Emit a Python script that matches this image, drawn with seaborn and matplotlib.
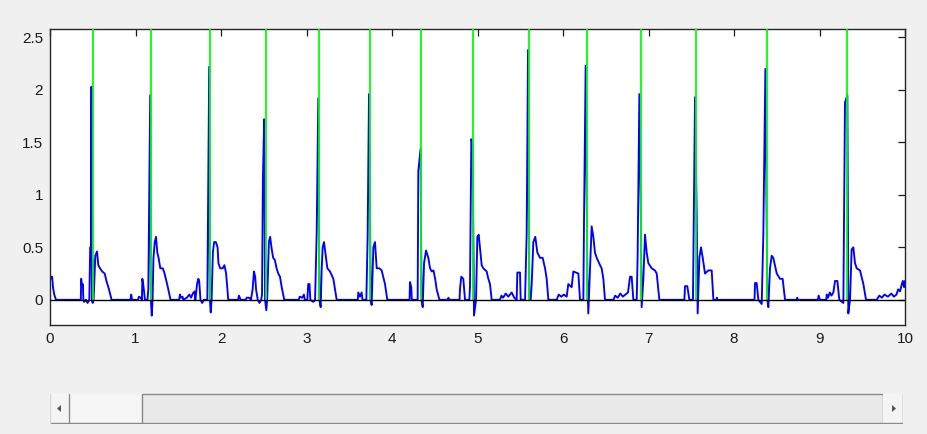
import numpy as np
import pandas as pd
import matplotlib
matplotlib.use("Agg")
import matplotlib.pyplot as plt
import seaborn as sns
from matplotlib.patches import Rectangle, Polygon

# ---------------- data ----------------
sig_t = [
    0.00, 0.01, 0.025, 0.035, 0.05, 0.07,
    0.36, 0.365, 0.375, 0.385, 0.39, 0.40, 0.42, 0.44, 0.46, 0.47, 0.48, 0.485, 0.49, 0.50, 0.505, 0.51,
    0.52, 0.53, 0.55, 0.565, 0.585, 0.61, 0.64, 0.66, 0.69, 0.72,
    0.94, 0.95, 0.96,
    1.03, 1.04, 1.06, 1.075, 1.08, 1.09, 1.10, 1.11, 1.14, 1.15, 1.16, 1.172, 1.18, 1.19, 1.20,
    1.21, 1.225, 1.24, 1.255, 1.27, 1.29, 1.32, 1.34, 1.37, 1.41,
    1.51, 1.52, 1.53, 1.55, 1.56, 1.60, 1.63, 1.65, 1.67, 1.69, 1.70, 1.72, 1.735, 1.745, 1.76, 1.78,
    1.80, 1.84, 1.85, 1.862, 1.87, 1.88, 1.89, 1.905, 1.92, 1.94, 1.96, 1.97, 1.99, 2.02, 2.04, 2.06, 2.085,
    2.20, 2.21, 2.23, 2.29, 2.30, 2.33, 2.35, 2.37, 2.385, 2.40, 2.41, 2.43, 2.45, 2.47, 2.48, 2.49,
    2.505, 2.515, 2.53, 2.54, 2.56, 2.575, 2.59, 2.61, 2.63, 2.65, 2.67, 2.69, 2.71, 2.74,
    2.91, 2.92, 2.95, 2.97, 2.98, 3.01, 3.02, 3.035, 3.045, 3.08, 3.10, 3.119, 3.138, 3.150, 3.166,
    3.177, 3.189, 3.205, 3.228, 3.244, 3.275, 3.314, 3.333, 3.353,
    3.600, 3.606, 3.625, 3.645, 3.655, 3.700, 3.715, 3.731, 3.751, 3.762, 3.782, 3.801, 3.821, 3.852,
    3.879, 3.918, 3.945,
    4.205, 4.211, 4.225, 4.232, 4.300, 4.308, 4.335, 4.345, 4.359, 4.375, 4.398, 4.425, 4.445, 4.465,
    4.485, 4.505, 4.522, 4.555,
    4.655, 4.660, 4.668, 4.790, 4.795, 4.810, 4.834, 4.854, 4.905, 4.912, 4.928, 4.943, 4.959, 4.983,
    4.998, 5.014, 5.029, 5.049, 5.068, 5.107, 5.127, 5.146, 5.166,
    5.263, 5.28, 5.30, 5.33, 5.36, 5.40, 5.43, 5.458, 5.466, 5.497, 5.505, 5.556, 5.575, 5.591, 5.606,
    5.622, 5.634, 5.653, 5.676, 5.700, 5.731, 5.762, 5.790, 5.809, 5.829,
    5.926, 5.95, 5.98, 6.01, 6.043, 6.062, 6.101, 6.121, 6.180, 6.199, 6.238, 6.246, 6.265, 6.285,
    6.296, 6.316, 6.335, 6.355, 6.374, 6.394, 6.433, 6.452, 6.472, 6.491,
    6.589, 6.61, 6.64, 6.67, 6.70, 6.73, 6.76, 6.784, 6.803, 6.823, 6.862, 6.873, 6.893, 6.909, 6.920,
    6.940, 6.959, 6.979, 6.998, 7.037, 7.076, 7.096, 7.127,
    7.420, 7.427, 7.454, 7.478, 7.520, 7.525, 7.544, 7.564, 7.575, 7.595, 7.614, 7.634, 7.661, 7.700,
    7.739, 7.759,
    7.797, 7.800, 7.805, 8.240, 8.246, 8.265, 8.285, 8.324, 8.343, 8.367, 8.390, 8.402, 8.421, 8.441,
    8.460, 8.500, 8.538, 8.569, 8.597,
    8.733, 8.74, 8.745, 8.98, 8.99, 9.006, 9.08, 9.084, 9.10, 9.12, 9.14, 9.162, 9.182, 9.209, 9.232,
    9.279, 9.298, 9.326, 9.337, 9.357, 9.376, 9.396, 9.415, 9.435, 9.474, 9.513, 9.544,
    9.669, 9.70, 9.73, 9.76, 9.80, 9.84, 9.87, 9.90, 9.92, 9.942, 9.96, 9.975, 9.989, 10.0,
]
sig_v = [
    0.18, 0.22, 0.22, 0.12, 0.05, 0.00,
    0.00, 0.20, 0.12, 0.15, 0.00, -0.02, 0.00, -0.03, 0.00, 0.50, 0.50, 2.03, 0.00, -0.03, 0.38, 0.00,
    0.20, 0.42, 0.46, 0.33, 0.30, 0.27, 0.25, 0.18, 0.10, 0.00,
    0.00, 0.05, 0.00,
    0.00, 0.03, 0.02, 0.00, 0.20, 0.15, 0.08, 0.00, 0.00, 0.10, 0.98, 1.95, 0.00, -0.15, 0.00,
    0.40, 0.55, 0.60, 0.45, 0.40, 0.30, 0.30, 0.25, 0.15, 0.00,
    0.00, 0.05, 0.02, 0.03, 0.00, 0.02, 0.05, 0.02, 0.06, 0.08, 0.00, 0.15, 0.20, 0.18, 0.00, -0.03,
    0.00, 0.00, 0.97, 2.22, 0.00, -0.12, 0.00, 0.45, 0.55, 0.55, 0.50, 0.35, 0.30, 0.30, 0.33, 0.25, 0.00,
    0.00, 0.04, 0.00, 0.00, 0.02, 0.02, 0.00, 0.10, 0.27, 0.22, 0.10, 0.00, -0.03, 0.00, 0.05, 1.15,
    1.72, 0.00, -0.10, 0.00, 0.55, 0.60, 0.50, 0.40, 0.38, 0.30, 0.25, 0.22, 0.12, 0.00,
    0.00, 0.03, 0.02, 0.05, 0.00, 0.00, 0.15, 0.15, 0.00, -0.02, 0.00, 0.63, 1.92, 0.00, -0.07,
    0.28, 0.50, 0.55, 0.40, 0.30, 0.27, 0.20, 0.10, 0.00,
    0.00, 0.07, 0.03, 0.07, 0.00, 0.00, 0.60, 1.96, 0.00, -0.05, 0.50, 0.55, 0.30, 0.30,
    0.28, 0.15, 0.00,
    0.00, 0.17, 0.12, 0.00, 0.00, 1.23, 1.44, 0.00, -0.07, 0.35, 0.47, 0.40, 0.30, 0.27,
    0.28, 0.20, 0.10, 0.00,
    0.00, 0.02, 0.00, 0.00, 0.10, 0.22, 0.20, 0.00, 0.00, 0.13, 1.53, 1.47, -0.15, 0.00,
    0.60, 0.62, 0.50, 0.33, 0.30, 0.27, 0.20, 0.15, 0.00,
    0.00, 0.04, 0.02, 0.06, 0.03, 0.07, 0.02, 0.00, 0.26, 0.26, 0.00, 0.00, 0.63, 2.38, 0.00,
    0.00, 0.15, 0.55, 0.60, 0.45, 0.40, 0.40, 0.30, 0.20, 0.00,
    0.00, 0.05, 0.03, 0.05, 0.03, 0.15, 0.12, 0.27, 0.25, 0.00, 0.00, 0.77, 2.23, 0.20,
    -0.13, 0.30, 0.70, 0.60, 0.45, 0.40, 0.33, 0.30, 0.20, 0.00,
    0.00, 0.04, 0.02, 0.06, 0.03, 0.05, 0.07, 0.22, 0.22, 0.00, 0.00, 0.42, 1.96, 0.90, -0.07,
    0.20, 0.62, 0.45, 0.35, 0.30, 0.28, 0.25, 0.00,
    0.00, 0.13, 0.13, 0.00, 0.00, 0.42, 1.93, 0.78, -0.13, 0.40, 0.50, 0.40, 0.25, 0.28,
    0.28, 0.00,
    0.00, 0.02, 0.00, 0.00, 0.16, 0.16, 0.00, -0.04, 0.62, 2.20, 0.00, -0.07, 0.30, 0.42,
    0.40, 0.25, 0.20, 0.20, 0.00,
    0.00, 0.02, 0.00, 0.00, 0.04, 0.00, 0.00, 0.05, 0.02, 0.07, 0.04, 0.07, 0.18, 0.18, 0.00,
    -0.03, 1.88, 1.95, -0.13, 0.00, 0.48, 0.50, 0.35, 0.30, 0.28, 0.15, 0.00,
    0.00, 0.04, 0.02, 0.05, 0.03, 0.06, 0.03, 0.05, 0.10, 0.08, 0.14, 0.18, 0.12, 0.18,
]
r_peaks = [0.507, 1.185, 1.875, 2.522, 3.146, 3.747, 4.335, 4.947, 5.602, 6.277, 6.909, 7.556, 8.382, 9.322]
x_ticks = [0, 1, 2, 3, 4, 5, 6, 7, 8, 9, 10]
y_ticks = [0, 0.5, 1, 1.5, 2, 2.5]
y_tick_labels = ["0", "0.5", "1", "1.5", "2", "2.5"]

# ---------------- figure ----------------
sns.set_theme(style="white")
plt.rcParams["font.family"] = ["Liberation Sans", "DejaVu Sans"]

W, H = 927, 434
fig = plt.figure(figsize=(W / 100, H / 100), dpi=100, facecolor="#f0f0f0")
ax = fig.add_axes([50 / W, 1 - 325 / H, 855 / W, 296 / H])
ax.set_facecolor("white")

df = pd.DataFrame({"t": sig_t, "v": sig_v})
sns.lineplot(data=df, x="t", y="v", sort=False, estimator=None,
             color="#0000ff", linewidth=1.35, ax=ax, zorder=2)
ax.vlines(r_peaks, 0, 2.6, colors="#00ff00", linewidth=1.3, zorder=3)
ax.axhline(0, color="black", linewidth=1.0, zorder=4)

ax.set_xlim(0, 10)
ax.set_ylim(-0.24, 2.58)
ax.set_xticks(x_ticks)
ax.set_xticklabels([str(v) for v in x_ticks])
ax.set_yticks(y_ticks)
ax.set_yticklabels(y_tick_labels)
ax.set_xlabel("")
ax.set_ylabel("")
ax.tick_params(direction="in", length=5, width=0.9, top=True, right=True,
               labeltop=False, labelright=False, labelsize=11,
               colors="#1a1a1a", pad=5)
for s in ax.spines.values():
    s.set_color("#262626")
    s.set_linewidth(1.0)

# ---------------- scrollbar (UI) ----------------
sb = fig.add_axes([50 / W, 1 - 424 / H, 853 / W, 31 / H])
sb.set_xlim(0, 853)
sb.set_ylim(0, 31)
sb.axis("off")
sb.add_patch(Rectangle((0, 0), 853, 31, facecolor="#f2f2f2", edgecolor="none"))
# track / thumb box
sb.add_patch(Rectangle((92, 1), 741, 29, facecolor="#e9e9e9", edgecolor="#8a8a8a", linewidth=1.0))
# left arrow button
sb.add_patch(Rectangle((0, 1), 19, 29, facecolor="#f4f4f4", edgecolor="none"))
sb.plot([19, 19], [1, 30], color="#8a8a8a", lw=1.0)
sb.plot([0, 19], [1, 1], color="#8a8a8a", lw=1.0)
sb.plot([0, 0], [1, 30], color="#d8d8d8", lw=1.0)
sb.add_patch(Polygon([[7, 15.5], [11, 12], [11, 19]], closed=True, facecolor="#555555", edgecolor="none"))
# light left part
sb.add_patch(Rectangle((20, 1.5), 71, 28, facecolor="#f6f6f6", edgecolor="none"))
sb.plot([20, 92], [1, 1], color="#8a8a8a", lw=1.0)
# right arrow button
sb.add_patch(Rectangle((833, 1), 20, 29, facecolor="#f4f4f4", edgecolor="none"))
sb.plot([853, 853], [1, 30], color="#8a8a8a", lw=1.0)
sb.plot([833, 853], [1, 1], color="#8a8a8a", lw=1.0)
sb.add_patch(Polygon([[846, 15.5], [842, 12], [842, 19]], closed=True, facecolor="#555555", edgecolor="none"))

fig.savefig("out.png", dpi=100, facecolor=fig.get_facecolor())
